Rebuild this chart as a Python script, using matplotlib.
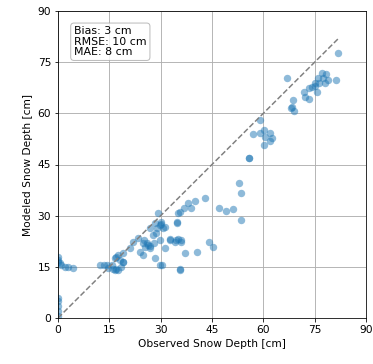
import numpy as np
import matplotlib
matplotlib.use('Agg')
import matplotlib.pyplot as plt

# observed vs modeled snow depth [cm]
observed = [
    0, 0, 0, 0, 0,
    0, 0, 0, 0.5, 1, 2, 3, 4.5,
    12.3, 13.5, 14.2, 14.7, 15.7, 16, 16.7, 17, 17.5, 18.5,
    16.7, 17.6, 19.1, 19.1, 17, 18, 19,
    21, 22, 23.5, 24, 24.9, 24.9, 25.4, 26.4, 26.9, 27, 25, 26, 28,
    26.9, 27.9, 28.3, 29.3, 29.8, 31.3, 30, 28.5, 30, 29, 30.8,
    28.3, 29.8, 30.3, 29.8, 31.3, 32.7, 32.7, 34.2, 35.2, 35.8, 36, 34.5,
    34.9, 35.2, 35.6, 34.7, 35.6, 35.6, 37.1, 40.5,
    36.9, 38.1, 39, 40, 43, 44.2, 45.4,
    47.1, 49.1, 51.2, 53.4, 53, 53.4, 55.8, 55.8,
    57, 59, 59, 60.2, 60.5, 62, 62.4, 60.2, 62,
    67, 68, 68.3, 68.8, 69.1, 71.9, 72.2, 73.4, 73.4, 74.1, 75.1, 75.1,
    75.8, 76, 76.4, 77.1, 77.5, 78, 78.3, 79, 81.2, 81.9,
]
modeled = [
    0.5, 2, 3.5, 5, 6,
    18, 17, 16.5, 16, 15.5, 15, 15, 14.7,
    15.5, 15.5, 15.5, 14.6, 15.5, 14.5, 14.1, 14.5, 14.2, 15,
    17.5, 18.5, 19, 16.5, 18, 17, 16.5,
    20.4, 22.4, 23.4, 19.4, 21.9, 18.5, 20.9, 21.4, 20.4, 21, 23, 22, 22,
    26.3, 24.3, 27.8, 30.7, 27.3, 26.8, 27.5, 25, 28, 26.5, 26.5,
    17.5, 15.5, 15.5, 22.9, 20.4, 22.9, 23.2, 22.4, 23.1, 22.4, 23, 23,
    28, 30.9, 31.2, 27.8, 14.4, 14.1, 19, 19.3,
    32.3, 33.6, 32.2, 34.3, 35.1, 22.4, 20.9,
    32.3, 31.4, 32, 28.7, 39.5, 36.6, 47, 47,
    54, 58, 54.1, 55.1, 53.2, 54.1, 52.7, 50.7, 52,
    70.3, 61.5, 62, 63.9, 60.8, 66.4, 64.9, 64.1, 67.3, 67.8, 67.9, 68.8,
    66.4, 70.3, 68.8, 71.8, 70.3, 68.8, 71.5, 69.8, 69.8, 77.6,
]
stats_text = 'Bias: 3 cm\nRMSE: 10 cm\nMAE: 8 cm'
ticks = [0, 15, 30, 45, 60, 75, 90]

fig = plt.figure(figsize=(373 / 72, 364 / 72), dpi=72)
ax = fig.add_axes([58 / 373, 46 / 364, 308 / 373, 307 / 364])

ax.set_axisbelow(True)
ax.grid(True, color='#b0b0b0', linewidth=0.9)
ax.scatter(observed, modeled, s=55, color='tab:blue', alpha=0.5, linewidths=0)
top = max(observed)
ax.plot([0, top], [0, top], '--', color='gray', linewidth=1.5)

ax.set_xlim(0, 90)
ax.set_ylim(0, 90)
ax.set_xticks(ticks)
ax.set_yticks(ticks)
ax.set_xlabel('Observed Snow Depth [cm]', fontsize=10.6)
ax.set_ylabel('Modeled Snow Depth [cm]', fontsize=10.6)
ax.tick_params(labelsize=10.6)

ax.text(0.052, 0.95, stats_text, transform=ax.transAxes, fontsize=11,
        va='top', ha='left', linespacing=1.05,
        bbox=dict(boxstyle='round', facecolor='white', edgecolor='#aaaaaa', alpha=0.8))

fig.savefig('out.png', dpi=72)
